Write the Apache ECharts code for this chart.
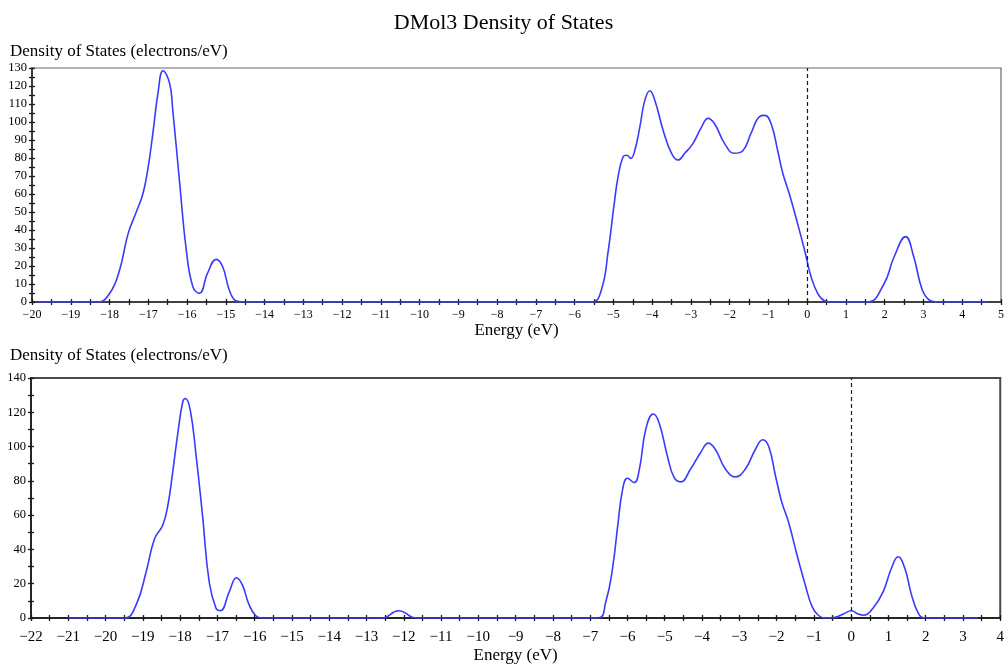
<!DOCTYPE html>
<html>
<head>
<meta charset="UTF-8">
<title>DMol3 Density of States</title>
<script src="https://cdn.jsdelivr.net/npm/echarts@6/dist/echarts.min.js"></script>
<style>
  html, body { margin: 0; padding: 0; background: #fff; }
  #main { width: 1007px; height: 665px; }
</style>
</head>
<body>
<div id="main"></div>
<script type="text/javascript">
// top panel: energy (eV) and density of states
var topEnergy = [-19.85, -18.3, -17.99, -17.74, -17.52, -17.31, -17.14, -17.01, -16.88, -16.75,
  -16.62, -16.45, -16.37, -16.19, -16.02, -15.85, -15.68, -15.47, -15.25, -15.08,
  -14.91, -14.74, -14.55, -5.56, -5.31, -5.13, -5.00, -4.88, -4.75, -4.66,
  -4.55, -4.45, -4.32, -4.19, -4.06, -3.93, -3.72, -3.50, -3.33, -3.16,
  -2.95, -2.73, -2.56, -2.39, -2.13, -1.88, -1.66, -1.45, -1.23, -1.09,
  -0.93, -0.76, -0.63, -0.46, -0.25, -0.07, 0.10, 0.27, 0.44, 0.6,
  1.55, 1.98, 2.24, 2.54, 2.75, 2.97, 3.18, 3.35, 4.66];
var topDos = [0, 0, 5, 17.8, 38, 50, 60, 74, 94, 116,
  128.5, 121.5, 107, 66, 29, 8.5, 4.8, 16, 23.7, 19.6,
  6.7, 0.7, 0, 0, 6.7, 29, 51, 69.6, 80.7, 81.5,
  79.8, 84, 97, 112, 117.4, 112, 95.6, 82.6, 78.9, 82.6,
  88, 97, 102, 99, 88, 82.6, 84, 93.7, 103, 103.7,
  99, 84, 71.5, 60, 43.7, 29, 14, 4.8, 0.7, 0,
  0, 10, 25, 36.3, 25, 6.7, 0.7, 0, 0];

// bottom panel
var botEnergy = [-21.0, -19.49, -19.18, -18.91, -18.69, -18.47, -18.33, -18.20, -18.06, -17.93,
  -17.86, -17.73, -17.57, -17.40, -17.22, -17.04, -16.92, -16.68, -16.49, -16.33,
  -16.15, -15.97, -15.8, -12.59, -12.14, -11.65, -6.80, -6.58, -6.40, -6.26,
  -6.13, -6.00, -5.82, -5.68, -5.51, -5.31, -5.15, -4.93, -4.75, -4.57,
  -4.31, -4.04, -3.83, -3.64, -3.37, -3.10, -2.84, -2.57, -2.37, -2.21,
  -2.03, -1.86, -1.68, -1.45, -1.23, -1.05, -0.88, -0.7, -0.43, -0.21,
  0.01, 0.19, 0.34, 0.59, 0.86, 1.08, 1.26, 1.44, 1.62, 1.80,
  1.97, 3.4];
var botDos = [0, 0, 7.7, 27, 46, 54, 65.5, 85, 108, 126,
  128, 121.5, 94.5, 60, 21, 5.8, 4.2, 15.4, 23.5, 19.3,
  7.7, 1.3, 0, 0, 4.2, 0, 0, 9.6, 29, 54,
  75, 81.5, 79, 86.8, 110, 119, 113.8, 94.5, 82, 79.4,
  86.8, 96.4, 102, 98.3, 86.8, 82.3, 86.8, 98.3, 104, 100,
  83, 67.5, 56, 36.6, 19.3, 6.8, 1.6, 0, 0.4, 2.3,
  4.2, 2.3, 1.6, 5.8, 15.4, 29, 35.7, 29, 13.5, 2.9,
  0, 0];

var fermiLevel = 0;

var serif = 'Liberation Serif';
var lineBlue = '#3a3aff';
var ink = '#1a1a1a';

function pairs(xs, ys) {
  var out = [];
  for (var i = 0; i < xs.length; i++) out.push([xs[i], ys[i]]);
  return out;
}
function minus(v) { return String(v).replace('-', '\u2212'); }

var tickStyle = { color: ink, width: 1.3 };

// main x axis (labels + outward ticks)
function mainX(grid, min, max, fontSize, margin, nameGap) {
  return {
    type: 'value', gridIndex: grid, position: 'bottom', min: min, max: max, interval: 1,
    name: 'Energy (eV)', nameLocation: 'middle', nameGap: nameGap,
    nameTextStyle: { fontFamily: serif, fontSize: 17, color: '#000' },
    axisLine: { onZero: false, lineStyle: { color: ink, width: 1.5 } },
    axisTick: { length: 3, lineStyle: tickStyle },
    minorTick: { show: true, splitNumber: 2, length: 3, lineStyle: tickStyle },
    axisLabel: { fontFamily: serif, fontSize: fontSize, color: '#000', margin: margin, formatter: minus },
    splitLine: { show: false }
  };
}
// overlay axis so the ticks cross the line
function tickX(grid, min, max) {
  return {
    type: 'value', gridIndex: grid, position: 'bottom', min: min, max: max, interval: 1,
    axisLine: { show: false, onZero: false },
    axisTick: { inside: true, length: 3, lineStyle: tickStyle },
    minorTick: { show: true, splitNumber: 2, length: 3, lineStyle: tickStyle },
    axisLabel: { show: false }, splitLine: { show: false }
  };
}
function mainY(grid, max, interval) {
  return {
    type: 'value', gridIndex: grid, position: 'left', min: 0, max: max, interval: interval,
    axisLine: { show: true, onZero: false, lineStyle: { color: ink, width: 1.5 } },
    axisTick: { show: true, length: 3, lineStyle: tickStyle },
    minorTick: { show: true, splitNumber: 2, length: 3, lineStyle: tickStyle },
    axisLabel: { fontFamily: serif, fontSize: 12.5, color: '#000', margin: 5 },
    splitLine: { show: false }
  };
}
function tickY(grid, max, interval) {
  return {
    type: 'value', gridIndex: grid, position: 'left', min: 0, max: max, interval: interval,
    axisLine: { show: false, onZero: false },
    axisTick: { show: true, inside: true, length: 3, lineStyle: tickStyle },
    minorTick: { show: true, splitNumber: 2, length: 3, lineStyle: tickStyle },
    axisLabel: { show: false }, splitLine: { show: false }
  };
}
function dosSeries(xi, yi, data) {
  return {
    type: 'line', xAxisIndex: xi, yAxisIndex: yi, data: data,
    smooth: 0.45, showSymbol: false, symbol: 'none',
    lineStyle: { color: lineBlue, width: 1.6 },
    markLine: {
      silent: true, symbol: 'none', label: { show: false },
      lineStyle: { color: ink, type: [4, 3], width: 1.2 },
      data: [{ xAxis: fermiLevel }]
    }
  };
}

var myChart = echarts.init(document.getElementById('main'));
myChart.setOption({
  animation: false,
  backgroundColor: '#fff',
  title: [
    { text: 'DMol3 Density of States', left: 'center', top: 7,
      textStyle: { fontFamily: serif, fontSize: 22, fontWeight: 'normal', color: '#000' } },
    { text: 'Density of States (electrons/eV)', left: 10, top: 43, padding: 0,
      textStyle: { fontFamily: serif, fontSize: 17, fontWeight: 'normal', color: '#000' } },
    { text: 'Density of States (electrons/eV)', left: 10, top: 347, padding: 0,
      textStyle: { fontFamily: serif, fontSize: 17, fontWeight: 'normal', color: '#000' } }
  ],
  grid: [
    { left: 32, top: 68, width: 972, height: 234, show: true, borderColor: '#6a6a6a', borderWidth: 1.2 },
    { left: 31, top: 378, width: 973, height: 242, show: true, borderColor: '#4a4a4a', borderWidth: 2 }
  ],
  xAxis: [
    mainX(0, -20, 5, 12, 7, 19),
    tickX(0, -20, 5),
    mainX(1, -22, 4, 15, 12, 29),
    tickX(1, -22, 4)
  ],
  yAxis: [
    mainY(0, 130, 10),
    tickY(0, 130, 10),
    mainY(1, 140, 20),
    tickY(1, 140, 20)
  ],
  series: [
    dosSeries(0, 0, pairs(topEnergy, topDos)),
    dosSeries(2, 2, pairs(botEnergy, botDos))
  ]
});
</script>
</body>
</html>
